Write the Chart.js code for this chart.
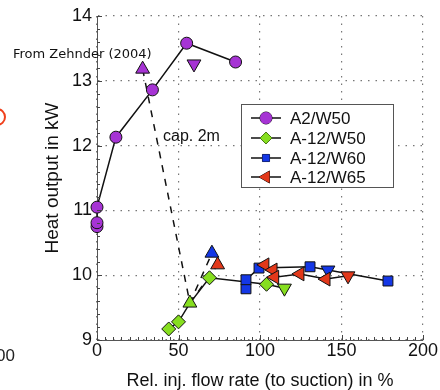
<!DOCTYPE html>
<html>
<head>
<meta charset="utf-8">
<script src="https://cdn.jsdelivr.net/npm/chart.js@4.4.1/dist/chart.umd.min.js"></script>
<style>
html,body{margin:0;padding:0;background:#fff;}
#wrap{position:relative;width:440px;height:390px;}
</style>
</head>
<body>
<div id="wrap"><canvas id="grafico" width="440" height="390"></canvas></div>
<script>

// =============================
// DADOS
// =============================

const xTicks = [0, 50, 100, 150, 200];
const yTicks = [9, 10, 11, 12, 13, 14];

// A2/W50
const a2w50X = [0, 0, 0, 11.6, 34, 55, 85];
const a2w50Y = [10.75, 10.81, 11.05, 12.13, 12.86, 13.58, 13.29];

// A-12/W50 (ultimo = triangulo para baixo, 3o = triangulo para cima)
const a12w50X = [44, 50, 57, 69, 104, 115];
const a12w50Y = [9.17, 9.28, 9.57, 9.96, 9.86, 9.80];

// A-12/W60
const a12w60X = [91.4, 91.4, 99.4, 130.7, 141.7, 178.5];
const a12w60Y = [9.79, 9.93, 10.11, 10.13, 10.08, 9.91];

// A-12/W65
const a12w65X = [103, 108, 109, 124.5, 140.5, 154];
const a12w65Y = [10.16, 10.08, 9.97, 10.02, 9.94, 9.99];

// triangulos soltos (cap. 2m)
const triX = [28, 59.5, 70.5, 74];
const triY = [13.18, 13.26, 10.34, 10.16];

// linha tracejada
const tracoAX = [28, 57, 70.5];
const tracoAY = [13.18, 9.57, 10.34];
const tracoBX = [57, 74];
const tracoBY = [9.57, 10.16];

const roxo = "#a633d4";
const verde = "#86de1f";
const azul = "#1437e6";
const vermelho = "#e2381a";

const fonte = "'Liberation Sans', Arial, sans-serif";

function pontos(xs, ys){
return xs.map((x,i)=>({x:x, y:ys[i]}));
}

// =============================
// PLUGINS
// =============================

const extras = {
id:"extras",
afterDraw(chart){
const ctx = chart.ctx;
const sx = chart.scales.x;
const sy = chart.scales.y;
const area = chart.chartArea;

ctx.save();
ctx.strokeStyle = "#444";
ctx.lineWidth = 1;

// minor ticks
for(let v=0; v<=200; v+=5){
const px = Math.round(sx.getPixelForValue(v)) + 0.5;
const len = v % 50 === 0 ? 5 : 3;
ctx.beginPath();
ctx.moveTo(px, area.bottom);
ctx.lineTo(px, area.bottom - len);
ctx.stroke();
}
for(let v=90; v<=140; v+=2){
const py = Math.round(sy.getPixelForValue(v/10)) + 0.5;
const len = v % 10 === 0 ? 5 : 3;
ctx.beginPath();
ctx.moveTo(area.left, py);
ctx.lineTo(area.left + len, py);
ctx.stroke();
}

// textos
ctx.fillStyle = "#111";
ctx.textBaseline = "alphabetic";
ctx.textAlign = "left";
ctx.font = "13px 'DejaVu Sans', sans-serif";
ctx.fillText("From Zehnder (2004)", 13, 58);

ctx.font = "16px " + fonte;
ctx.fillText("cap. 2m", 163, 141);

// resto de outra figura
ctx.font = "17px " + fonte;
ctx.fillStyle = "#222";
ctx.fillText("00", -4, 361);

ctx.strokeStyle = "#f0401c";
ctx.lineWidth = 2;
ctx.beginPath();
ctx.arc(-3, 117, 8, 0, Math.PI*2);
ctx.stroke();

// legenda
const lx = 241, ly = 104, lw = 152, lh = 83;
ctx.fillStyle = "#fff";
ctx.fillRect(lx, ly, lw, lh);
ctx.strokeStyle = "#555";
ctx.lineWidth = 1;
ctx.strokeRect(lx + 0.5, ly + 0.5, lw, lh);

const itens = [
{t:"A2/W50", s:"circle", c:roxo, r:6, rot:0},
{t:"A-12/W50", s:"rectRot", c:verde, r:6, rot:0},
{t:"A-12/W60", s:"rect", c:azul, r:5, rot:0},
{t:"A-12/W65", s:"triangle", c:vermelho, r:7, rot:270}
];
const ys = [118, 138, 158, 177];
itens.forEach((it,i)=>{
const y = ys[i];
ctx.strokeStyle = "#111";
ctx.lineWidth = 1.5;
ctx.beginPath();
ctx.moveTo(251, y);
ctx.lineTo(281, y);
ctx.stroke();
ctx.fillStyle = it.c;
ctx.lineWidth = 1;
Chart.helpers.drawPoint(ctx, {pointStyle:it.s, radius:it.r, rotation:it.rot, borderWidth:1}, 266, y);
ctx.fill();
ctx.fillStyle = "#111";
ctx.font = "17px " + fonte;
ctx.textBaseline = "middle";
ctx.fillText(it.t, 290, y + 1);
});

ctx.restore();
}
};

// =============================
// GRAFICO
// =============================

function serie(label, xs, ys, cor, estilos, rotacoes, raios){
return {
label: label,
data: pontos(xs, ys),
showLine: true,
borderColor: "#111",
borderWidth: 1.5,
backgroundColor: cor,
pointBackgroundColor: cor,
pointBorderColor: "#111",
pointBorderWidth: 1,
pointStyle: estilos,
pointRotation: rotacoes,
pointRadius: raios,
pointHoverRadius: raios
};
}

const datasets = [
{
label:"triangulos",
data: pontos(triX, triY),
showLine:false,
pointStyle:"triangle",
pointRotation:[0,180,0,0],
pointRadius:8,
pointBackgroundColor:[roxo, roxo, azul, vermelho],
pointBorderColor:"#111",
pointBorderWidth:1
},
serie("A-12/W65", a12w65X, a12w65Y, vermelho,
["triangle","triangle","triangle","triangle","triangle","triangle"],
[270,270,270,270,270,180], 8),
serie("A-12/W60", a12w60X, a12w60Y, azul,
["rect","rect","rect","rect","triangle","rect"],
[0,0,0,0,180,0], [7,7,7,7,8,7]),
serie("A-12/W50", a12w50X, a12w50Y, verde,
["rectRot","rectRot","triangle","rectRot","rectRot","triangle"],
[0,0,0,0,0,180], [7,7,8,7,7,8]),
serie("A2/W50", a2w50X, a2w50Y, roxo, "circle", 0, 6),
{
label:"tracoB",
data: pontos(tracoBX, tracoBY),
showLine:true,
borderColor:"#111",
borderWidth:1.5,
borderDash:[7,7],
pointRadius:0
},
{
label:"tracoA",
data: pontos(tracoAX, tracoAY),
showLine:true,
borderColor:"#111",
borderWidth:1.5,
borderDash:[7,7],
pointRadius:0
}
];

new Chart(document.getElementById("grafico").getContext("2d"), {
type:"scatter",
data:{datasets:datasets},
options:{
responsive:false,
animation:false,
clip:false,
layout:{padding:{top:16, right:17, left:0, bottom:0}},
plugins:{
legend:{display:false},
tooltip:{enabled:false}
},
scales:{
x:{
type:"linear",
min:0, max:200,
afterBuildTicks(s){ s.ticks = xTicks.map(v=>({value:v})); },
afterFit(s){ s.height = 50; },
grid:{color:"#777", lineWidth:1.2, drawTicks:false},
border:{display:true, color:"#555", width:1, dash:[1.5,6]},
ticks:{color:"#111", padding:0, font:{family:fonte, size:18}},
title:{display:true, text:"Rel. inj. flow rate (to suction) in %", color:"#111",
font:{family:fonte, size:18, lineHeight:1}, padding:{top:0, bottom:0}}
},
y:{
type:"linear",
min:9, max:14,
afterBuildTicks(s){ s.ticks = yTicks.map(v=>({value:v})); },
afterFit(s){ s.width = 97; },
grid:{color:"#777", lineWidth:1.2, drawTicks:false},
border:{display:true, color:"#555", width:1, dash:[1.5,6]},
ticks:{color:"#111", padding:5, font:{family:fonte, size:18}},
title:{display:true, text:"Heat output in kW", color:"#111",
font:{family:fonte, size:19, lineHeight:1}, padding:{top:43, bottom:0}}
}
}
},
plugins:[extras]
});

</script>
</body>
</html>
